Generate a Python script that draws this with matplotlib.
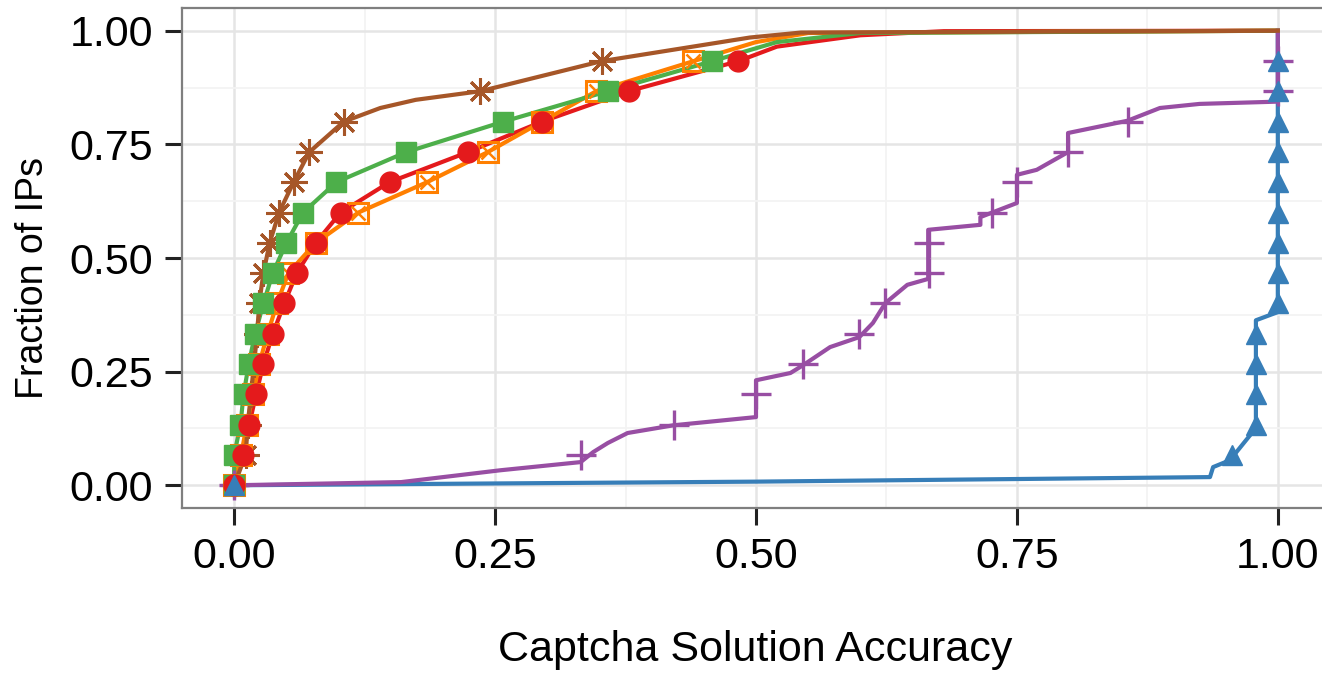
import matplotlib
matplotlib.use("Agg")
import matplotlib.pyplot as plt
from matplotlib.ticker import MultipleLocator, FormatStrFormatter

plt.rcParams["font.family"] = ["Liberation Sans", "DejaVu Sans"]

# marker levels (fraction of IPs) shared by the marked CDFs
levels = [0, 0.067, 0.133, 0.2, 0.267, 0.333, 0.4, 0.467, 0.533, 0.6,
          0.667, 0.733, 0.8, 0.867, 0.933]

# brown (asterisk)
brown_mx = [0, 0.011, 0.013, 0.016, 0.019, 0.022, 0.024, 0.028, 0.034,
            0.043, 0.057, 0.072, 0.105, 0.236, 0.352]
brown_lx = brown_mx[:13] + [0.140, 0.174] + brown_mx[13:] + [0.494, 0.543, 1.0]
brown_ly = levels[:13] + [0.830, 0.848] + levels[13:] + [0.985, 0.996, 1.0]

# green (filled square)
green_mx = [0, 0.0, 0.006, 0.009, 0.014, 0.020, 0.028, 0.037, 0.050,
            0.066, 0.098, 0.165, 0.258, 0.358, 0.458]
green_lx = green_mx + [0.52, 0.60, 1.0]
green_ly = levels + [0.975, 0.995, 1.0]

# red (circle)
red_mx = [0, 0.0086, 0.0144, 0.021, 0.028, 0.037, 0.048, 0.060, 0.078,
          0.102, 0.149, 0.224, 0.295, 0.378, 0.483]
red_lx = red_mx + [0.52, 0.60, 0.68, 1.0]
red_ly = levels + [0.965, 0.99, 0.999, 1.0]

# orange (square with cross)
orange_mx = [0, 0.0067, 0.012, 0.018, 0.024, 0.032, 0.041, 0.052, 0.078,
             0.119, 0.185, 0.243, 0.295, 0.347, 0.440]
orange_lx = orange_mx + [0.50, 0.55, 1.0]
orange_ly = levels + [0.975, 0.995, 1.0]

# purple (plus)
purple_mx = [0, 0.332, 0.421, 0.5, 0.545, 0.599, 0.624, 0.666, 0.666,
             0.726, 0.750, 0.799, 0.856, 1.0, 1.0]
purple_lx = [0, 0.160, 0.255, 0.332, 0.344, 0.358, 0.377, 0.421, 0.5, 0.5,
             0.533, 0.545, 0.571, 0.599, 0.612, 0.624, 0.645, 0.665, 0.665,
             0.715, 0.715, 0.750, 0.750, 0.769, 0.799, 0.799, 0.856, 0.887,
             0.925, 1.0, 1.0]
purple_ly = [0, 0.007, 0.033, 0.051, 0.073, 0.093, 0.115, 0.132, 0.150,
             0.231, 0.247, 0.264, 0.304, 0.326, 0.357, 0.401, 0.441, 0.454,
             0.562, 0.573, 0.590, 0.621, 0.683, 0.694, 0.733, 0.775, 0.802,
             0.830, 0.839, 0.844, 1.0]

# blue (triangle)
blue_mx = [0, 0.956, 0.979, 0.979, 0.979, 0.979, 1.0, 1.0, 1.0, 1.0,
           1.0, 1.0, 1.0, 1.0, 1.0]
blue_lx = [0, 0.5, 0.935, 0.938, 0.954, 0.979, 0.979, 1.0, 1.0]
blue_ly = [0, 0.008, 0.018, 0.040, 0.055, 0.126, 0.363, 0.381, 1.0]

RED, BLUE, GREEN = "#E41A1C", "#377EB8", "#4DAF4A"
PURPLE, ORANGE, BROWN = "#984EA3", "#FF7F00", "#A65628"

fig = plt.figure(figsize=(13.22, 6.75), dpi=100)
ax = fig.add_axes([182 / 1322, 167 / 675, 1148 / 1322, 500 / 675])

lw = 3.0
ax.plot(blue_lx, blue_ly, color=BLUE, lw=lw, zorder=2)
ax.plot(red_lx, red_ly, color=RED, lw=lw, zorder=2)
ax.plot(orange_lx, orange_ly, color=ORANGE, lw=lw, zorder=2)
ax.plot(green_lx, green_ly, color=GREEN, lw=lw, zorder=2)
ax.plot(purple_lx, purple_ly, color=PURPLE, lw=lw, zorder=2)
ax.plot(brown_lx, brown_ly, color=BROWN, lw=lw, zorder=2)

ax.plot(brown_mx, levels, ls="none", marker=(8, 2, 0), ms=19, mew=2.2,
        color=BROWN, zorder=3)
ax.plot(purple_mx, levels, ls="none", marker="+", ms=21, mew=2.4,
        color=PURPLE, zorder=3)
ax.plot(orange_mx, levels, ls="none", marker="s", ms=14, mew=2.2,
        mfc="none", mec=ORANGE, zorder=3)
ax.plot(orange_mx, levels, ls="none", marker="x", ms=10, mew=1.8,
        color=ORANGE, zorder=3)
ax.plot(green_mx, levels, ls="none", marker="s", ms=14, color=GREEN,
        mec=GREEN, zorder=3)
ax.plot(red_mx, levels, ls="none", marker="o", ms=15, color=RED,
        mec=RED, zorder=3)
ax.plot(blue_mx, levels, ls="none", marker="^", ms=15, color=BLUE,
        mec=BLUE, zorder=3)

ax.set_xlim(-0.05, 1.05)
ax.set_ylim(-0.05, 1.05)
ax.xaxis.set_major_locator(MultipleLocator(0.25))
ax.yaxis.set_major_locator(MultipleLocator(0.25))
ax.xaxis.set_minor_locator(MultipleLocator(0.125))
ax.yaxis.set_minor_locator(MultipleLocator(0.125))
ax.xaxis.set_major_formatter(FormatStrFormatter("%.2f"))
ax.yaxis.set_major_formatter(FormatStrFormatter("%.2f"))

ax.grid(which="major", color="#E5E5E5", lw=1.8, zorder=0)
ax.grid(which="minor", color="#F3F3F3", lw=1.3, zorder=0)
ax.set_axisbelow(True)
ax.tick_params(which="major", length=12, width=2.2, color="#222222",
               labelsize=31, pad=9)
ax.tick_params(which="minor", length=0)
for s in ax.spines.values():
    s.set_color("#7F7F7F")
    s.set_linewidth(1.6)

fig.text(755 / 1322, 1 - 650 / 675, "Captcha Solution Accuracy",
         ha="center", va="center", fontsize=31)
fig.text(33 / 1322, 1 - 278 / 675, "Fraction of IPs", rotation=90,
         ha="center", va="center", fontsize=27)

fig.savefig("out.png", dpi=100)
